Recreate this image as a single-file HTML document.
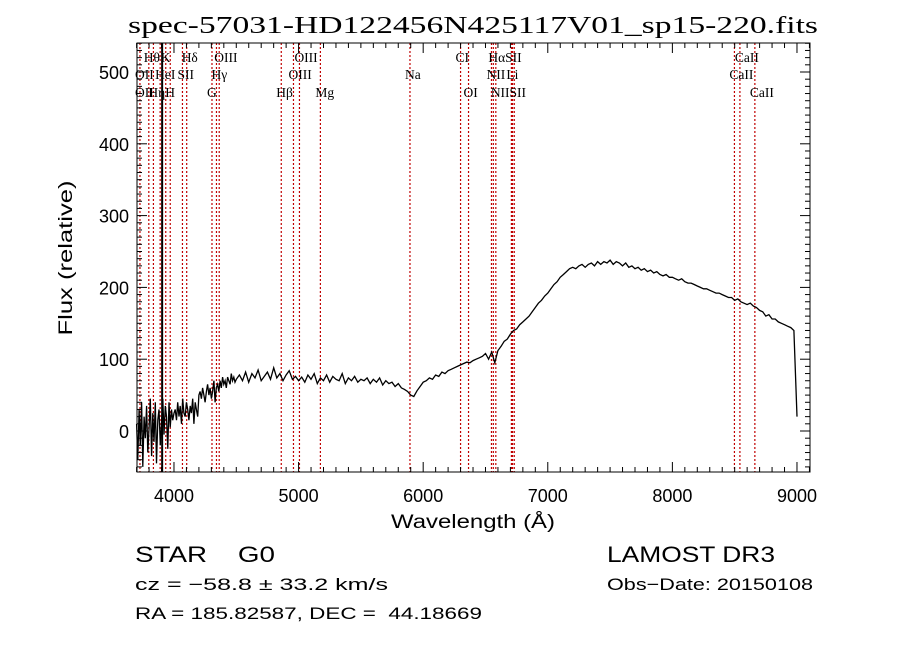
<!DOCTYPE html>
<html><head><meta charset="utf-8"><style>
body{margin:0;background:#fff;}
svg{display:block;font-family:"Liberation Sans",sans-serif;}
</style></head><body>
<svg id="chart" width="900" height="649" viewBox="0 0 900 649" xmlns="http://www.w3.org/2000/svg">
<rect width="900" height="649" fill="#fff"/>
<text x="473" y="33" font-size="24" text-anchor="middle" textLength="690" lengthAdjust="spacingAndGlyphs" font-family="Liberation Serif, serif">spec-57031-HD122456N425117V01_sp15-220.fits</text>
<g id="plot"></g>
<text x="473" y="528" font-size="19" text-anchor="middle" textLength="164" lengthAdjust="spacingAndGlyphs">Wavelength (Å)</text>
<text transform="translate(72,258) rotate(-90)" font-size="19" text-anchor="middle" textLength="155" lengthAdjust="spacingAndGlyphs">Flux (relative)</text>
<text x="135" y="562" font-size="22" textLength="140" lengthAdjust="spacingAndGlyphs" xml:space="preserve">STAR    G0</text>
<text x="607" y="562" font-size="22" textLength="168" lengthAdjust="spacingAndGlyphs">LAMOST DR3</text>
<text x="135" y="590" font-size="17" textLength="253" lengthAdjust="spacingAndGlyphs">cz = −58.8 ± 33.2 km/s</text>
<text x="607" y="590" font-size="17" textLength="206" lengthAdjust="spacingAndGlyphs">Obs−Date: 20150108</text>
<text x="135" y="619" font-size="17" textLength="347" lengthAdjust="spacingAndGlyphs" xml:space="preserve">RA = 185.82587, DEC =  44.18669</text>
</svg>
<script>
const xTicks=[4000,5000,6000,7000,8000,9000];
const yTicks=[0,100,200,300,400,500];
const wavesA=[];for(let w=3700;w<=4500;w+=10)wavesA.push(w);
const fluxA=[10,-40,30,-20,40,-50,20,-10,35,-30,5,45,-35,25,-15,40,-45,15,30,-20,10,45,-5,35,20,-25,40,5,30,15,25,
30,15,40,20,35,10,45,25,20,40,30,15,35,25,45,10,40,30,20,50,55,45,60,50,40,55,65,50,60,45,55,70,40,60,65,55,70,60,75,65,70,60,75,70,65,80,70,75,68,72];
const wavesB=[];for(let w=4525;w<=9000;w+=25)wavesB.push(w);
const fluxB=[78,70,82,68,80,74,85,70,76,82,72,88,74,80,70,78,84,72,76,70,
75,68,78,72,80,66,74,70,78,68,76,72,70,80,66,74,70,76,68,72,
70,74,66,72,68,74,64,70,66,68,62,66,60,58,55,50,48,56,62,68,
70,74,72,78,76,82,80,84,86,88,90,92,94,96,95,98,100,102,104,108,
100,110,95,112,118,125,128,135,140,142,148,152,156,160,166,172,178,182,188,192,
198,204,208,214,218,222,226,228,226,230,232,228,232,234,230,236,232,236,234,238,
232,236,234,230,234,228,230,226,228,224,226,222,224,220,222,218,216,218,214,214,
212,210,212,208,206,206,204,202,200,198,198,196,194,192,192,190,188,186,186,182,
184,180,178,176,178,174,172,168,166,160,162,156,156,152,150,148,146,144,140,20];
const lineWaves=[3727,3798,3835,3889,3934,3970,4068,4102,4305,4341,4363,4861,4959,5007,5175,5894,6300,6364,6548,6563,6583,6708,6717,6731,8498,8542,8662];
const labels=[["Hθ",3798,1],["K",3934,1],["Hδ",4102,1],["OIII",4363,1],["OIII",5007,1],["CI",6300,1],["HαSII",6563,1],["CaII",8542,1],
["OII",3727,2],["HeI",3889,2],["SII",4068,2],["Hγ",4341,2],["OIII",4959,2],["Na",5894,2],["NII",6548,2],["Li",6708,2],["CaII",8498,2],
["OII",3727,3],["Hη",3835,3],["H",3970,3],["G",4305,3],["Hβ",4861,3],["Mg",5175,3],["OI",6364,3],["NIISII",6583,3],["CaII",8662,3]];
const X0=137,X1=810,Y0=43,Y1=472;
const xs=w=>136.6+(w-3700)*0.1246;
const ys=f=>431-f*0.718;
const NS="http://www.w3.org/2000/svg";
const g=document.getElementById('plot');
function mk(t,a){const e=document.createElementNS(NS,t);for(const k in a)e.setAttribute(k,a[k]);g.appendChild(e);return e;}
lineWaves.forEach(w=>{const e=mk('line',{x1:xs(w),x2:xs(w),y1:Y0,y2:Y1,stroke:'#c00000','stroke-width':1.2,'stroke-dasharray':'2,2'});

});
const bl=mk('line',{x1:xs(3905),x2:xs(3905),y1:Y0,y2:Y1,stroke:'#000','stroke-width':2});


const rowY={1:62,2:79,3:97};
labels.forEach(l=>{const t=mk('text',{x:xs(l[1])-5,y:rowY[l[2]],'font-size':13.5,'font-family':'Liberation Serif, serif'});t.textContent=l[0];

});
let d='';wavesA.forEach((w,i)=>{d+=(i?'L':'M')+xs(w).toFixed(1)+','+ys(fluxA[i]).toFixed(1);});
wavesB.forEach((w,i)=>{d+='L'+xs(w).toFixed(1)+','+ys(fluxB[i]).toFixed(1);});
const p=mk('path',{d:d,fill:'none',stroke:'#000','stroke-width':1.3});


const fr=mk('rect',{x:X0,y:Y0,width:X1-X0,height:Y1-Y0,fill:'none',stroke:'#000','stroke-width':1});


for(let w=3700;w<=9100;w+=100){const maj=w%1000===0;const L=maj?10:5;
mk('line',{x1:xs(w),x2:xs(w),y1:Y1,y2:Y1-L,stroke:'#000'});mk('line',{x1:xs(w),x2:xs(w),y1:Y0,y2:Y0+L,stroke:'#000'});}
for(let f=-50;f<=540;f+=10){const maj=f%100===0;const L=maj?10:5;
mk('line',{x1:X0,x2:X0+L,y1:ys(f),y2:ys(f),stroke:'#000'});mk('line',{x1:X1,x2:X1-L,y1:ys(f),y2:ys(f),stroke:'#000'});}
xTicks.forEach(w=>{const t=mk('text',{x:xs(w),y:502,'font-size':18,'text-anchor':'middle'});t.textContent=w;

});
yTicks.forEach(f=>{const t=mk('text',{x:129,y:ys(f)+7,'font-size':18,'text-anchor':'end'});t.textContent=f;

});
</script>
</body></html>
